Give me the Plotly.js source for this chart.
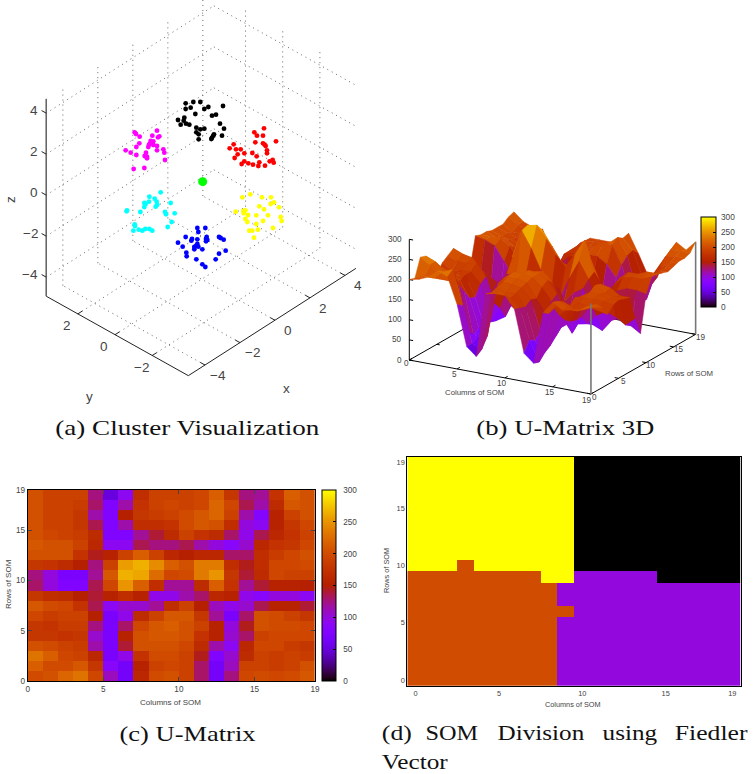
<!DOCTYPE html>
<html><head><meta charset="utf-8">
<script src="https://cdn.plot.ly/plotly-3.0.1.min.js"></script>
<style>html,body{margin:0;padding:0;background:#fff}
.heatmaplayer{filter:blur(0.5px)}</style></head>
<body><div id="chart" style="width:753px;height:774px"></div>
<script>
const W=753,H=774;
// (a) cluster points (projected view coordinates)
const blackX=[557,580,601,557,572,613,625,669,586,636,648,534,553,551,558,568,542,660,672,589,601,613,589,596,596,666,642,640,636,634];
const blackY=[310,306,306,327,323,327,321,318,342,347,344,360,353,362,371,374,374,371,386,383,388,386,397,403,418,407,403,407,413,417];
const magentaX=[404,408,419,471,457,478,474,418,409,460,455,450,447,445,460,471,471,490,493,377,392,438,409,434,441,441,495,401,433,452];
const magentaY=[397,402,410,392,407,409,412,430,441,424,428,430,434,441,435,438,451,448,458,451,458,458,465,468,470,475,480,507,504,423];
const redX=[792,763,771,789,766,828,789,794,797,701,689,708,722,801,801,713,733,757,770,704,733,745,725,759,778,775,795,809,818,821];
const redY=[385,397,407,407,427,424,430,434,438,433,445,448,448,451,460,463,460,459,469,474,484,490,492,494,487,498,497,484,480,488];
const cyanX=[482,448,464,470,447,433,437,433,472,467,512,381,380,421,495,498,524,515,503,404,405,400,416,427,436,448,457];
const cyanY=[577,590,596,605,605,609,612,621,614,620,609,631,634,636,636,643,640,666,681,673,678,692,689,692,687,687,692];
const yellowX=[751,727,786,813,822,812,778,837,792,707,730,736,731,744,769,804,736,742,842,845,789,769,819,774,748,757,762];
const yellowY=[583,592,592,592,607,612,619,622,628,635,633,631,640,645,646,646,657,666,651,663,663,672,684,689,692,692,713];
const blueX=[592,616,595,557,576,574,592,620,618,622,618,657,662,671,534,592,588,583,595,548,583,607,677,559,560,657,589,647,607,616];
const blueY=[684,684,696,711,717,722,718,711,717,720,724,711,714,719,728,732,738,741,740,740,748,748,752,758,769,761,778,778,793,801];
const greenX=[608], greenY=[545];
const clusterTicks=[-4,-2,0,2,4];
const yClusterTicks=[-2,0,2];

// (c) U-Matrix cells, row 0 (bottom) to row 18 (top)
const cells=[
[200,205,220,230,195,110,65,160,200,205,190,130,65,125,195,200,195,200,210],
[215,200,200,210,180,85,65,155,190,195,190,130,65,110,190,190,185,190,205],
[230,215,195,190,160,70,95,175,200,200,190,145,75,105,165,190,185,190,185],
[205,200,190,185,115,70,140,205,205,205,195,165,115,90,160,195,195,185,180],
[180,180,175,180,105,70,155,205,210,210,205,175,155,105,130,190,195,195,195],
[180,175,185,185,125,70,130,195,210,215,205,190,155,100,145,205,200,200,195],
[195,185,190,190,150,70,95,165,190,210,210,180,120,70,130,205,200,190,180],
[210,200,195,175,135,90,105,105,120,170,190,150,110,95,105,135,155,155,140],
[180,170,165,150,140,155,170,155,95,95,115,130,160,155,95,85,100,100,90],
[130,100,75,75,135,195,250,215,170,120,120,165,215,175,120,140,155,155,150],
[125,100,70,70,120,210,265,260,225,195,200,235,250,180,140,165,195,190,190],
[180,175,165,150,125,190,255,265,245,215,205,235,235,170,145,170,195,195,200],
[205,205,205,175,145,155,190,215,190,160,150,160,160,130,130,170,185,195,205],
[210,205,205,190,160,90,90,135,125,125,135,115,100,85,105,160,175,180,195],
[205,195,190,185,165,75,75,120,140,165,190,175,165,130,95,135,160,175,190],
[205,190,190,180,135,75,115,170,170,175,200,210,205,170,100,90,155,180,195],
[205,190,190,180,115,75,150,180,185,190,200,210,220,190,115,80,155,190,205],
[205,190,190,185,130,75,115,175,190,195,190,195,220,195,135,115,165,210,205],
[205,190,190,190,125,50,90,170,190,190,190,195,215,180,125,120,175,215,205]];

// (b) U-Matrix node heights, row 0 to row 19
const nodes=[
[200,205,215,235,225,160,60,40,200,205,205,175,70,50,180,210,195,200,205,215],
[195,205,205,225,235,150,60,50,195,205,190,170,95,45,170,205,195,190,205,215],
[240,225,195,195,190,75,70,75,200,190,195,165,85,60,175,195,185,185,195,200],
[235,225,200,190,165,60,75,150,205,205,200,175,100,70,150,175,190,185,180,175],
[195,205,195,180,140,70,100,190,210,210,205,170,135,85,130,190,195,195,195,190],
[175,180,180,185,135,65,130,195,215,215,210,190,160,100,120,185,200,200,190,195],
[195,180,185,185,160,70,110,180,200,215,210,200,170,100,115,170,210,195,190,190],
[205,195,195,200,170,65,80,130,180,205,210,185,130,70,115,150,205,200,185,185],
[215,205,200,170,120,80,100,85,95,135,175,165,105,85,90,115,130,120,105,125],
[150,185,170,155,140,165,170,170,100,70,90,125,150,165,80,70,100,110,95,80],
[110,130,60,70,130,200,270,230,180,110,120,175,220,180,120,125,165,175,175,170],
[140,110,55,60,110,205,275,280,250,215,190,225,265,190,135,165,190,195,195,205],
[215,210,200,165,130,170,220,260,225,190,180,215,215,160,130,175,195,195,205,205],
[210,210,210,195,165,115,140,165,165,115,110,110,110,90,110,150,175,185,190,200],
[210,200,200,185,180,65,60,105,110,140,150,135,100,75,95,150,165,175,190,195],
[205,195,190,185,150,60,75,150,175,180,190,190,175,145,85,110,160,175,190,200],
[205,195,190,180,120,65,120,170,175,185,200,215,215,170,90,85,150,180,195,205],
[205,190,190,180,115,60,130,170,190,190,195,205,225,185,105,85,160,200,205,205],
[215,200,190,190,140,55,100,170,190,195,190,200,215,190,130,115,165,210,210,210],
[220,200,190,190,125,40,85,175,190,190,190,195,220,175,125,125,180,220,205,230]];

// (d) division labels, row 0 to row 19: 0 black, 1 purple, 2 orange, 3 yellow
const division=[
[2,2,2,2,2,2,2,2,2,1,1,1,1,1,1,1,1,1,1,1],
[2,2,2,2,2,2,2,2,2,1,1,1,1,1,1,1,1,1,1,1],
[2,2,2,2,2,2,2,2,2,1,1,1,1,1,1,1,1,1,1,1],
[2,2,2,2,2,2,2,2,2,1,1,1,1,1,1,1,1,1,1,1],
[2,2,2,2,2,2,2,2,2,1,1,1,1,1,1,1,1,1,1,1],
[2,2,2,2,2,2,2,2,2,1,1,1,1,1,1,1,1,1,1,1],
[2,2,2,2,2,2,2,2,2,2,1,1,1,1,1,1,1,1,1,1],
[2,2,2,2,2,2,2,2,2,1,1,1,1,1,1,1,1,1,1,1],
[2,2,2,2,2,2,2,2,2,1,1,1,1,1,1,1,1,1,1,1],
[2,2,2,2,2,2,2,2,3,3,1,1,1,1,1,0,0,0,0,0],
[3,3,3,2,3,3,3,3,3,3,0,0,0,0,0,0,0,0,0,0],
[3,3,3,3,3,3,3,3,3,3,0,0,0,0,0,0,0,0,0,0],
[3,3,3,3,3,3,3,3,3,3,0,0,0,0,0,0,0,0,0,0],
[3,3,3,3,3,3,3,3,3,3,0,0,0,0,0,0,0,0,0,0],
[3,3,3,3,3,3,3,3,3,3,0,0,0,0,0,0,0,0,0,0],
[3,3,3,3,3,3,3,3,3,3,0,0,0,0,0,0,0,0,0,0],
[3,3,3,3,3,3,3,3,3,3,0,0,0,0,0,0,0,0,0,0],
[3,3,3,3,3,3,3,3,3,3,0,0,0,0,0,0,0,0,0,0],
[3,3,3,3,3,3,3,3,3,3,0,0,0,0,0,0,0,0,0,0],
[3,3,3,3,3,3,3,3,3,3,0,0,0,0,0,0,0,0,0,0]];
const somTicks=[0,5,10,15,19];
const barTicks=[0,50,100,150,200,250,300];
const zTicksB=[0,50,100,150,200,250,300];

// gnuplot pm3d palette 7,5,15
function pal(v){const x=Math.max(0,Math.min(1,v/300));
  return `rgb(${Math.round(255*Math.sqrt(x))},${Math.round(255*x*x*x)},${Math.round(255*Math.max(0,Math.sin(2*Math.PI*x)))})`;}
const scale=[];for(let i=0;i<=64;i++)scale.push([i/64,pal(300*i/64)]);

const dX=(a,b)=>[a/W,b/W], dY=(t,b)=>[1-b/H,1-t/H];
const sans='"Liberation Sans",Arial,sans-serif', serif='"Liberation Serif",serif';
const tc='#444';
const traces=[], ann=[];
function label(text,x,y,xref,yref,size,opt){ann.push(Object.assign({text:String(text),x,y,xref,yref,showarrow:false,xanchor:'center',yanchor:'middle',borderpad:0,font:{family:sans,size,color:tc}},opt||{}));}
const mn=t=>String(t).replace('-','\u2212');

// ---- panel a projection (view coordinates)
const xMin=-4.95,xMax=4.63,yMin=-3.94,yMax=3.7,zMin=-4.93,zMax=4.7;
function pA(x,y,z){return [565+52.5*(x-xMin)-55.8*(y-yMin),1127-33.6*(x-xMin)-31.2*(y-yMin)-61.5*(z-zMin)];}
function polyA(list,style){const xs=[],ys=[];list.forEach(seg=>{seg.forEach(p=>{const q=pA(p[0],p[1],p[2]);xs.push(q[0]);ys.push(q[1]);});xs.push(null);ys.push(null);});
  traces.push({type:'scatter',mode:'lines',x:xs,y:ys,xaxis:'x',yaxis:'y',line:style,hoverinfo:'skip',showlegend:false,connectgaps:false});}
const gridSegs=[];
clusterTicks.forEach(x=>{gridSegs.push([[x,yMax,zMin],[x,yMax,zMax]]);gridSegs.push([[x,yMin,zMin],[x,yMax,zMin]]);});
[-2,0,2].forEach(y=>{gridSegs.push([[xMax,y,zMin],[xMax,y,zMax]]);gridSegs.push([[xMin,y,zMin],[xMax,y,zMin]]);});
clusterTicks.forEach(z=>{gridSegs.push([[xMin,yMax,z],[xMax,yMax,z]]);gridSegs.push([[xMax,yMax,z],[xMax,yMin,z]]);});
polyA(gridSegs,{color:'#666',width:1,dash:'1px,4px'});
polyA([[[xMin,yMax,zMin],[xMin,yMin,zMin],[xMax,yMin,zMin]]],{color:'#222',width:1});
polyA([[[xMin,yMax,zMin],[xMin,yMax,zMax]]],{color:'#666',width:1.6});
const tickSegs=[];
clusterTicks.forEach(x=>tickSegs.push([[x,yMin,zMin],[x,yMin+0.25,zMin]]));
yClusterTicks.forEach(y=>tickSegs.push([[xMin,y,zMin],[xMin+0.25,y,zMin]]));
clusterTicks.forEach(z=>tickSegs.push([[xMin,yMax,z],[xMin,yMax+0.25,z]]));
polyA(tickSegs,{color:'#222',width:1});
[[blackX,blackY,'#000'],[magentaX,magentaY,'#ff00ff'],[redX,redY,'#ff0000'],[cyanX,cyanY,'#00ffff'],[yellowX,yellowY,'#ffff00'],[blueX,blueY,'#0000ff']].forEach(c=>{
  traces.push({type:'scatter',mode:'markers',x:c[0],y:c[1],xaxis:'x',yaxis:'y',marker:{color:c[2],size:4.8},hoverinfo:'skip',showlegend:false});});
traces.push({type:'scatter',mode:'markers',x:greenX,y:greenY,xaxis:'x',yaxis:'y',marker:{color:'#00ff00',size:9},hoverinfo:'skip',showlegend:false});
clusterTicks.forEach(z=>{const q=pA(xMin,yMax,z);label(mn(z),q[0]-23,q[1]-8,'x','y',13.5,{xanchor:'right'});});
clusterTicks.forEach(x=>{const q=pA(x,yMin,zMin);label(mn(x),q[0]+38,q[1]+31,'x','y',13.5);});
yClusterTicks.forEach(y=>{const q=pA(xMin,y,zMin);label(mn(y),q[0]-33,q[1]+36,'x','y',13.5);});
label('x',860,1165,'x','y',13.5);label('y',268,1190,'x','y',13.5);label('z',30,600,'x','y',13.5,{textangle:-90});

// ---- panel b projection (page pixels)
function pB(c,r,z){return [409.3+9.56*c+5.51*r,360+1.79*c-3.14*r-0.4023*z];}
function linesB(segs,style){const xs=[],ys=[];segs.forEach(s=>{s.forEach(p=>{const q=pB(p[0],p[1],p[2]);xs.push(q[0]);ys.push(q[1]);});xs.push(null);ys.push(null);});
  traces.push({type:'scatter',mode:'lines',x:xs,y:ys,xaxis:'x2',yaxis:'y2',line:style,hoverinfo:'skip',showlegend:false});}
const backSegs=[[[0,0,0],[0,19,0]],[[0,19,0],[19,19,0]],[[0,0,0],[0,0,300]]];
zTicksB.forEach(z=>backSegs.push([[0,0,z],[0.4,0,z]]));
somTicks.forEach(r=>backSegs.push([[0,r,0],[0.3,r,0]]));
linesB(backSegs,{color:'#000',width:1});
const quads=[];
for(let r=0;r<19;r++)for(let c=0;c<19;c++)quads.push([r,c]);
quads.sort((a,b)=>(1.79*a[1]-3.14*a[0])-(1.79*b[1]-3.14*b[0]));
quads.forEach(q=>{const r=q[0],c=q[1],pts=[[c,r],[c+1,r],[c+1,r+1],[c,r+1],[c,r]].map(p=>pB(p[0],p[1],nodes[p[1]][p[0]]));
  const col=pal((nodes[r][c]+nodes[r][c+1]+nodes[r+1][c]+nodes[r+1][c+1])/4);
  traces.push({type:'scatter',mode:'lines',x:pts.map(p=>p[0]),y:pts.map(p=>p[1]),xaxis:'x2',yaxis:'y2',fill:'toself',fillcolor:col,line:{color:col,width:0.5},hoverinfo:'skip',showlegend:false});});
const frontSegs=[[[0,0,0],[19,0,0]],[[19,0,0],[19,19,0]]];
somTicks.forEach(c=>frontSegs.push([[c,0,0],[c,0.5,0]]));
somTicks.forEach(r=>frontSegs.push([[19,r,0],[18.6,r,0]]));
linesB(frontSegs,{color:'#000',width:1});
linesB([[[19,0,0],[19,0,225]],[[19,19,0],[19,19,230]]],{color:'#777',width:1.6});
function barOpts(x,th,top,len,size,pad){return {x:x/W,xanchor:'left',y:1-top/H,yanchor:'top',thickness:th,thicknessmode:'pixels',len:len/H,lenmode:'fraction',xpad:0,ypad:0,
  outlinewidth:1,outlinecolor:'#000',ticks:'inside',ticklen:3,tickcolor:'#000',tickmode:'array',tickvals:barTicks,ticktext:barTicks.map(v=>pad+v),tickfont:{family:sans,size,color:tc}};}
// colour bar of panel b carried by the node heights
const nodeFlat=[],nx=[],ny=[];
nodes.forEach((row,r)=>row.forEach((z,c)=>{const q=pB(c,r,z);nx.push(q[0]);ny.push(q[1]);nodeFlat.push(z);}));
traces.push({type:'scatter',mode:'markers',x:nx,y:ny,xaxis:'x2',yaxis:'y2',hoverinfo:'skip',showlegend:false,
  marker:{size:1,opacity:0,color:nodeFlat,cmin:0,cmax:300,colorscale:scale,showscale:true,
    colorbar:barOpts(701,15,217.3,90,8.3,'\u00a0')}});
zTicksB.forEach(z=>{const q=pB(0,0,z);label(z,q[0]-6,q[1],'x2','y2',8.2,{xanchor:'right'});});
somTicks.forEach(c=>{const q=pB(c,0,0);label(c,q[0]-(c==19?4:3),q[1]+(c==0?3:6),'x2','y2',8.2);});
somTicks.forEach(r=>{const q=pB(19,r,0);label(r,q[0]+(r==0?4:5),q[1]+3,'x2','y2',8.2);});
label('Columns of SOM',474,392.5,'x2','y2',7.8);label('Rows of SOM',689,373,'x2','y2',7.8);

// ---- panel c
traces.push({type:'heatmap',z:cells,x0:0.5,dx:1,y0:0.5,dy:1,xaxis:'x3',yaxis:'y3',zmin:0,zmax:300,colorscale:scale,hoverinfo:'skip',colorbar:barOpts(321.7,14.3,490,191,8.2,'\u00a0\u00a0')});
// ---- panel d
traces.push({type:'heatmap',z:division,x0:0,dx:1,y0:0,dy:1,xaxis:'x4',yaxis:'y4',zmin:0,zmax:3,showscale:false,hoverinfo:'skip',
  colorscale:[[0,pal(0)],[0.25,pal(0)],[0.25,pal(100)],[0.5,pal(100)],[0.5,pal(200)],[0.75,pal(200)],[0.75,pal(300)],[1,pal(300)]]});

const P=(x,y)=>[x/W,1-y/H];
function paperLabel(t,x,y,size,opt){const p=P(x,y);label(t,p[0],p[1],'paper','paper',size,opt);}
paperLabel('Columns of SOM',170.7,702.7,8);paperLabel('Rows of SOM',8,584,8,{textangle:-90});
paperLabel('Columns of SOM',573,704.3,7.3);paperLabel('Rows of SOM',386,571,7.3,{textangle:-90});

const hid={visible:false,fixedrange:true};
function som(size,extra){return Object.assign({tickmode:'array',tickvals:somTicks,tickfont:{family:sans,size,color:tc},showgrid:false,zeroline:false,showline:true,linecolor:'#000',linewidth:1,mirror:true,fixedrange:true},extra);}
const layout={width:W,height:H,margin:{l:0,r:0,t:0,b:0},paper_bgcolor:'#fff',plot_bgcolor:'rgba(0,0,0,0)',showlegend:false,hovermode:false,
  xaxis:Object.assign({domain:dX(0,370),range:[0,1110],anchor:'y'},hid),
  yaxis:Object.assign({domain:dY(0,410),range:[1230,0],anchor:'x'},hid),
  xaxis2:Object.assign({domain:dX(375,753),range:[375,753],anchor:'y2'},hid),
  yaxis2:Object.assign({domain:dY(200,410),range:[410,200],anchor:'x2'},hid),
  xaxis3:som(8.2,{domain:dX(27.7,315),range:[0,19],anchor:'y3',ticks:'inside',ticklen:4,mirror:'ticks'}),
  yaxis3:som(8.2,{domain:dY(490,681),range:[0,19],anchor:'x3',ticks:'inside',ticklen:4,mirror:'ticks'}),
  xaxis4:som(7.4,{domain:dX(407.3,740.7),range:[-0.5,19.5],anchor:'y4',ticks:''}),
  yaxis4:som(7.4,{domain:dY(456.7,686),range:[-0.52,19.5],anchor:'x4',ticks:''}),
  annotations:ann};
// captions: the typeset face is wider than any installed serif, so each is set to its measured width
const capWidths={};
function cap(t,cx,y,w){capWidths[t]=w;ann.push({text:t,x:cx/W,y:1-y/H,xref:'paper',yref:'paper',showarrow:false,xanchor:'center',yanchor:'middle',borderpad:0,font:{family:serif,size:22,color:'#111'}});}
cap('(a) Cluster Visualization',187,427,264);
cap('(b) U-Matrix 3D',565,427,178);
cap('(c) U-Matrix',187,733,136);
cap('(d)',396.7,732,30);cap('SOM',452,732,52.6);cap('Division',541,732,86.6);cap('using',630,732,54.6);cap('Fiedler',711.3,732,72.7);
cap('Vector',414.7,761,66);
Plotly.newPlot('chart',traces,layout,{staticPlot:true,displayModeBar:false}).then(()=>{
  document.querySelectorAll('.annotation-text').forEach(el=>{const w=capWidths[el.textContent];
    if(w){el.setAttribute('textLength',w);el.setAttribute('lengthAdjust','spacingAndGlyphs');}});
});
</script></body></html>
